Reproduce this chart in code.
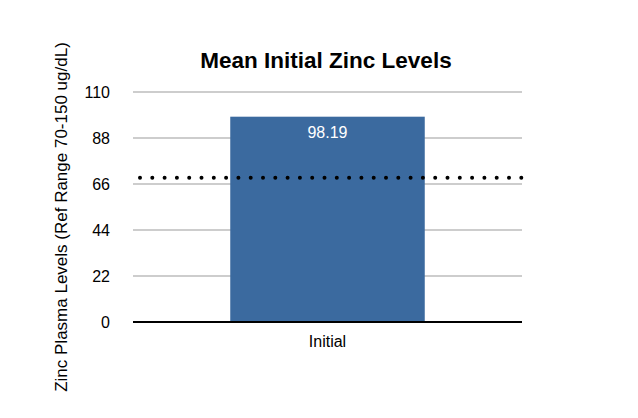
<!DOCTYPE html>
<html>
<head>
<meta charset="utf-8">
<script src="https://cdn.jsdelivr.net/npm/d3@7"></script>
<style>
  body { margin: 0; background: #fff; }
  text { font-family: "Liberation Sans", Arial, sans-serif; }
</style>
</head>
<body>
<div class="chart-container"></div>
<script>
const categories = ['Initial']
const values = [98.19]
const yTicks = [0, 22, 44, 66, 88, 110]
const refLow = 69

const w = 638
const h = 418
const margin = { top: 92, right: 116, bottom: 96, left: 133 }

const svg = d3
    .select('.chart-container')
    .append('svg')
    .attr('width', w)
    .attr('height', h)

const x = d3
    .scaleBand()
    .domain(categories)
    .range([margin.left, w - margin.right])
    .paddingInner(0.5)
    .paddingOuter(0.25)

const y = d3
    .scaleLinear()
    .domain([0, 110])
    .range([h - margin.bottom, margin.top])

// gridlines
svg.append('g')
    .selectAll('line')
    .data(yTicks.slice(1))
    .join('line')
    .attr('x1', margin.left)
    .attr('x2', w - margin.right)
    .attr('y1', d => y(d))
    .attr('y2', d => y(d))
    .attr('stroke', '#bdbdbd')
    .attr('stroke-width', 1.5)

// y tick labels
svg.append('g')
    .selectAll('text')
    .data(yTicks)
    .join('text')
    .attr('x', margin.left - 23)
    .attr('y', d => y(d))
    .attr('dy', '0.35em')
    .attr('text-anchor', 'end')
    .attr('font-size', 16)
    .text(d => d)

// bars
svg.append('g')
    .selectAll('rect')
    .data(values)
    .join('rect')
    .attr('x', (d, i) => x(categories[i]))
    .attr('y', d => y(d))
    .attr('width', x.bandwidth())
    .attr('height', d => y(0) - y(d))
    .attr('fill', '#3b6a9f')

svg.append('g')
    .selectAll('text')
    .data(values)
    .join('text')
    .attr('x', (d, i) => x(categories[i]) + x.bandwidth() / 2)
    .attr('y', d => y(d) + 21)
    .attr('text-anchor', 'middle')
    .attr('font-size', 16)
    .attr('fill', '#fff')
    .text(d => d.toFixed(2))

// baseline
svg.append('line')
    .attr('x1', margin.left)
    .attr('x2', w - margin.right)
    .attr('y1', y(0))
    .attr('y2', y(0))
    .attr('stroke', '#000')
    .attr('stroke-width', 2)

// x labels
svg.append('g')
    .selectAll('text')
    .data(categories)
    .join('text')
    .attr('x', d => x(d) + x.bandwidth() / 2)
    .attr('y', y(0) + 25)
    .attr('text-anchor', 'middle')
    .attr('font-size', 16)
    .text(d => d)

// reference dotted line
svg.append('line')
    .attr('x1', 140)
    .attr('x2', 530)
    .attr('y1', y(refLow))
    .attr('y2', y(refLow))
    .attr('stroke', '#000')
    .attr('stroke-width', 4)
    .attr('stroke-linecap', 'round')
    .attr('stroke-dasharray', '0 12.3')

// title
svg.append('text')
    .attr('x', 326)
    .attr('y', 68)
    .attr('text-anchor', 'middle')
    .attr('font-size', 22.5)
    .attr('font-weight', 'bold')
    .text('Mean Initial Zinc Levels')

// y axis title
svg.append('text')
    .attr('transform', `translate(67, ${(h - margin.bottom + margin.top) / 2 + 10}) rotate(-90)`)
    .attr('text-anchor', 'middle')
    .attr('font-size', 17)
    .text('Zinc Plasma Levels (Ref Range 70-150 ug/dL)')
</script>
</body>
</html>
